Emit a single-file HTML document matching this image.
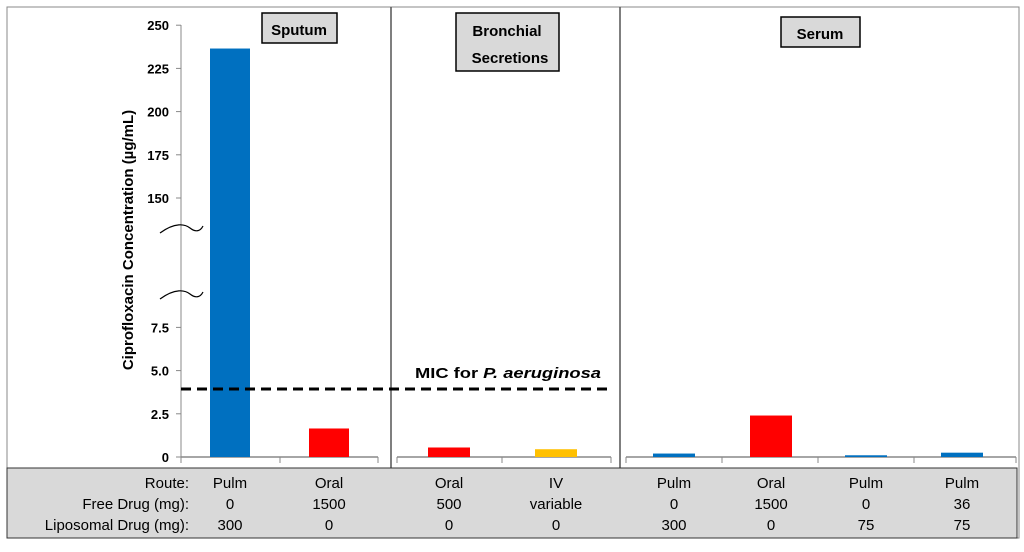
<!DOCTYPE html>
<html><head><meta charset="utf-8"><style>
body{margin:0;background:#fff;font-family:"Liberation Sans",sans-serif}
svg text{font-family:"Liberation Sans",sans-serif}
</style></head><body>
<svg width="1024" height="547">
<rect x="7" y="7" width="1012" height="531" fill="#fff" stroke="#888"/>
<line x1="391" y1="7" x2="391" y2="468" stroke="#555" stroke-width="1.5"/>
<line x1="620" y1="7" x2="620" y2="468" stroke="#555" stroke-width="1.5"/>
<g id="axes"></g>
<g id="bars"></g>
<line x1="181" y1="389" x2="611" y2="389" stroke="#000" stroke-width="3" stroke-dasharray="10,6"/>
<text x="415" y="378" font-size="15" font-weight="bold" textLength="186" lengthAdjust="spacingAndGlyphs">MIC for <tspan font-style="italic">P. aeruginosa</tspan></text>
<text transform="translate(133,240) rotate(-90)" text-anchor="middle" font-size="15" font-weight="bold">Ciprofloxacin Concentration (µg/mL)</text>
<path d="M160,233 C175,222 185,224 190,228 S200,232 203,226" fill="none" stroke="#000" stroke-width="1.2"/>
<path d="M160,299 C175,288 185,290 190,294 S200,298 203,292" fill="none" stroke="#000" stroke-width="1.2"/>
<g><rect x="262" y="13" width="75" height="30" fill="#d9d9d9" stroke="#000" stroke-width="1.5"/><text x="299" y="35" text-anchor="middle" font-size="15" font-weight="bold">Sputum</text></g>
<g><rect x="456" y="13" width="103" height="58" fill="#d9d9d9" stroke="#000" stroke-width="1.5"/><text x="507" y="36" text-anchor="middle" font-size="15" font-weight="bold">Bronchial</text><text x="510" y="63" text-anchor="middle" font-size="15" font-weight="bold">Secretions</text></g>
<g><rect x="781" y="17" width="79" height="30" fill="#d9d9d9" stroke="#000" stroke-width="1.5"/><text x="820" y="39" text-anchor="middle" font-size="15" font-weight="bold">Serum</text></g>
<rect x="7" y="468" width="1010" height="70" fill="#d9d9d9" stroke="#333"/>
<g id="table" font-size="15"></g>
</svg>
<script>
const categories=["Sputum Pulm","Sputum Oral","Bronchial Oral","Bronchial IV","Serum Pulm 300","Serum Oral","Serum Pulm 75","Serum Pulm 36/75"];
const values=[236.5,1.65,0.55,0.45,0.2,2.4,0.1,0.25];
const colors=["#0070c0","#ff0000","#ff0000","#ffc000","#0070c0","#ff0000","#0070c0","#0070c0"];
const routes=["Pulm","Oral","Oral","IV","Pulm","Oral","Pulm","Pulm"];
const freeDrug=["0","1500","500","variable","0","1500","0","36"];
const liposomal=["300","0","0","0","300","0","75","75"];
const lowTicks=[0,2.5,5.0,7.5];
const highTicks=[150,175,200,225,250];
const lowLabels=["0","2.5","5.0","7.5"];
const highLabels=["150","175","200","225","250"];
const NS="http://www.w3.org/2000/svg";
const centers=[230,329,449,556,674,771,866,962];
function y(v){return v<=10?457-v*17.28:198-(v-150)*1.728;}
function mk(t,a,p){const e=document.createElementNS(NS,t);for(const k in a)e.setAttribute(k,a[k]);p.appendChild(e);return e;}
const ax=document.getElementById('axes');
mk('line',{x1:181,y1:25,x2:181,y2:457,stroke:'#888'},ax);
[[181,378,[181,280,378]],[397,611,[397,502,611]],[626,1016,[626,722,818,914,1016]]].forEach(s=>{
 mk('line',{x1:s[0],y1:457,x2:s[1],y2:457,stroke:'#888','stroke-width':1.5},ax);
 s[2].forEach(x=>mk('line',{x1:x,y1:457,x2:x,y2:463,stroke:'#888'},ax));
});
function tick(v,l){mk('line',{x1:176,y1:y(v),x2:181,y2:y(v),stroke:'#888'},ax);
 const t=mk('text',{x:169,y:y(v)+5,'text-anchor':'end','font-size':13,'font-weight':'bold'},ax);t.textContent=l;
 
 }
lowTicks.forEach((v,i)=>tick(v,lowLabels[i]));
highTicks.forEach((v,i)=>tick(v,highLabels[i]));
const bg=document.getElementById('bars');
values.forEach((v,i)=>{const w=i<2?40:42;
 const r=mk('rect',{x:centers[i]-w/2,y:y(v),width:w,height:457-y(v),fill:colors[i]},bg);
 
 });
const tb=document.getElementById('table');
const rows=[["Route:",routes],["Free Drug (mg):",freeDrug],["Liposomal Drug (mg):",liposomal]];
rows.forEach((r,j)=>{const yy=488+j*21;
 const h=mk('text',{x:189,y:yy,'text-anchor':'end'},tb);h.textContent=r[0];
 
 
 r[1].forEach((s,i)=>{const t=mk('text',{x:centers[i],y:yy,'text-anchor':'middle'},tb);t.textContent=s;
 
 });});
</script>
</body></html>
